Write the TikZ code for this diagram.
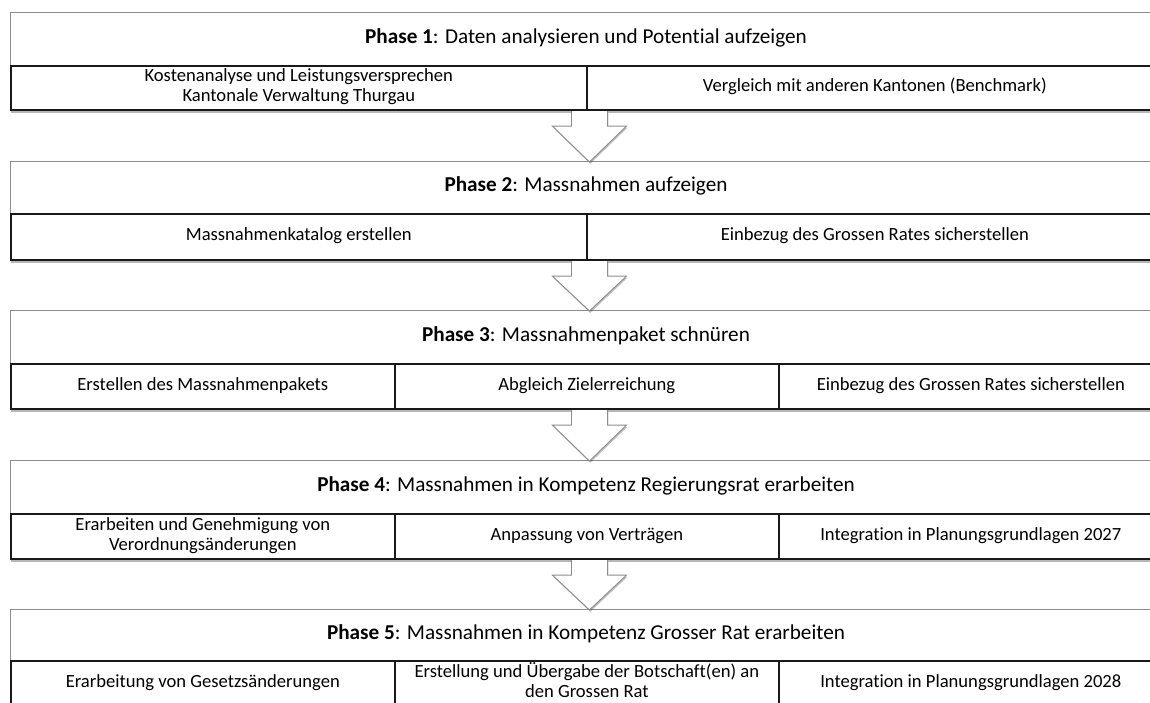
\documentclass[tikz,border=0pt]{standalone}
\usepackage{fontspec}
\setmainfont{Carlito}[Ligatures=NoCommon]
\usetikzlibrary{calc,shadows}
\begin{document}
\begin{tikzpicture}[x=1pt,y=-1pt,
  outer/.style={draw=black!45, line width=0.9pt, fill=white, inner sep=0pt, anchor=north west,
    drop shadow={shadow xshift=1pt, shadow yshift=-3.5pt, opacity=0.4, fill=black!70}},
  cell/.style={draw=black!90, line width=1.6pt, inner sep=0pt, anchor=north west, align=center,
    font=\fontsize{18.6}{20}\selectfont},
  headtext/.style={font=\fontsize{21.2}{24}\selectfont},
  blockarrow/.style={draw=black!45, fill=white, line width=0.9pt,
    drop shadow={shadow xshift=0.8pt, shadow yshift=-1.8pt, opacity=0.25, fill=black}}]
\useasboundingbox (0,0) rectangle (1150,702);
\clip (0,0) rectangle (1150,702);

% Phase 1
\node[outer, minimum width=1152pt, minimum height=97pt] (p1) at (10,12) {};
\node[headtext] (h1) at (586,38.5) {\strut\textbf{Phase 1}: Daten analysieren und Potential aufzeigen};
\node[cell, minimum width=576pt, minimum height=44pt] (c11) at (10,65) {\strut Kostenanalyse und Leistungsversprechen\\\strut Kantonale Verwaltung Thurgau};
\node[cell, minimum width=576pt, minimum height=44pt] (c12) at (586,65) {\strut Vergleich mit anderen Kantonen (Benchmark)};

% Phase 2
\node[outer, minimum width=1152pt, minimum height=98pt] (p2) at (10,161) {};
\node[headtext] (h2) at (586,187) {\strut\textbf{Phase 2}: Massnahmen aufzeigen};
\node[cell, minimum width=576pt, minimum height=46pt] (c21) at (10,213) {\strut Massnahmenkatalog erstellen};
\node[cell, minimum width=576pt, minimum height=46pt] (c22) at (586,213) {\strut Einbezug des Grossen Rates sicherstellen};

% Phase 3
\node[outer, minimum width=1152pt, minimum height=98pt] (p3) at (10,310) {};
\node[headtext] (h3) at (586,336.5) {\strut\textbf{Phase 3}: Massnahmenpaket schnüren};
\node[cell, minimum width=384pt, minimum height=45pt] (c31) at (10,363) {\strut Erstellen des Massnahmenpakets};
\node[cell, minimum width=384pt, minimum height=45pt] (c32) at (394,363) {\strut Abgleich Zielerreichung};
\node[cell, minimum width=384pt, minimum height=45pt] (c33) at (778,363) {\strut Einbezug des Grossen Rates sicherstellen};

% Phase 4
\node[outer, minimum width=1152pt, minimum height=98pt] (p4) at (10,460) {};
\node[headtext] (h4) at (586,486.5) {\strut\textbf{Phase 4}: Massnahmen in Kompetenz Regierungsrat erarbeiten};
\node[cell, minimum width=384pt, minimum height=45pt] (c41) at (10,513) {\strut Erarbeiten und Genehmigung von\\\strut Verordnungsänderungen};
\node[cell, minimum width=384pt, minimum height=45pt] (c42) at (394,513) {\strut Anpassung von Verträgen};
\node[cell, minimum width=384pt, minimum height=45pt] (c43) at (778,513) {\strut Integration in Planungsgrundlagen 2027};

% Phase 5
\node[outer, minimum width=1152pt, minimum height=96pt] (p5) at (10,609) {};
\node[headtext] (h5) at (586,634.5) {\strut\textbf{Phase 5}: Massnahmen in Kompetenz Grosser Rat erarbeiten};
\node[cell, minimum width=384pt, minimum height=45pt] (c51) at (10,660) {\strut Erarbeitung von Gesetzsänderungen};
\node[cell, minimum width=384pt, minimum height=45pt] (c52) at (394,660) {\strut Erstellung und Übergabe der Botschaft(en) an\\\strut den Grossen Rat};
\node[cell, minimum width=384pt, minimum height=45pt] (c53) at (778,660) {\strut Integration in Planungsgrundlagen 2028};

% block arrows between phases
\foreach \a/\b in {p1/p2, p2/p3, p3/p4, p4/p5}{
  \coordinate (S) at ($(\a.south)+(3,1.2)$);
  \coordinate (T) at ($(\b.north)+(3,1)$);
  \draw[blockarrow] ($(S)+(-18,0)$) -- ($(S)+(-18,15)$) -- ($(S)+(-37,15)$) -- (T)
     -- ($(S)+(37,15)$) -- ($(S)+(18,15)$) -- ($(S)+(18,0)$);
}
\end{tikzpicture}
\end{document}
